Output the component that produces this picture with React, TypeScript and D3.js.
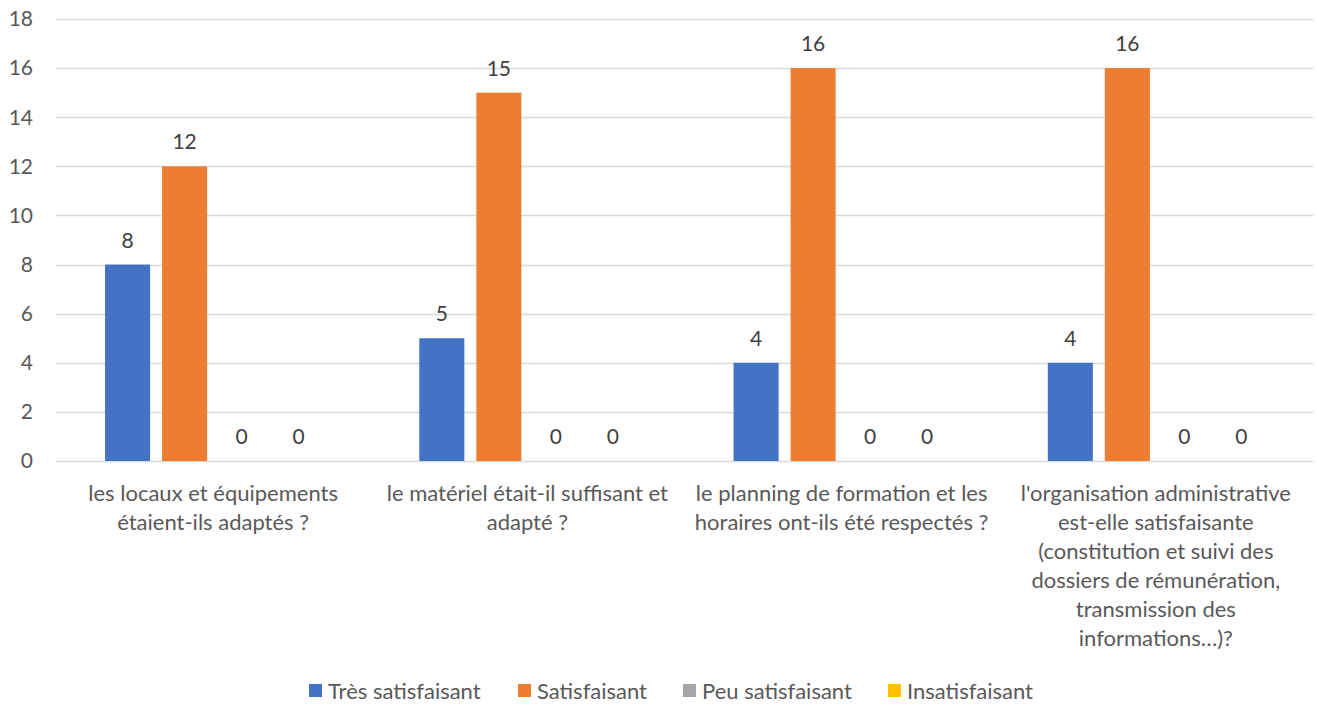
import { useEffect, useRef } from "react";
import * as d3 from "d3";

const categories = [
  "les locaux et équipements\nétaient-ils adaptés ?",
  "le matériel était-il suffisant et\nadapté ?",
  "le planning de formation et les\nhoraires ont-ils été respectés ?",
  "l'organisation administrative\nest-elle satisfaisante\n(constitution et suivi des\ndossiers de rémunération,\ntransmission des\ninformations…)?",
];
const seriesNames = ["Très satisfaisant", "Satisfaisant", "Peu satisfaisant", "Insatisfaisant"];
const seriesColors = ["#4472c4", "#ed7d31", "#a5a5a5", "#ffc000"];
const tresSatisfaisant = [8, 5, 4, 4];
const satisfaisant = [12, 15, 16, 16];
const peuSatisfaisant = [0, 0, 0, 0];
const insatisfaisant = [0, 0, 0, 0];
const yTicks = [0, 2, 4, 6, 8, 10, 12, 14, 16, 18];

const W = 1317;
const H = 706;
const FONT = "Lato, 'Open Sans', sans-serif";
const TEXT = "#595959";

export default function App() {
  const svgRef = useRef<SVGSVGElement | null>(null);

  useEffect(() => {
    if (!svgRef.current) return;
    const svg = d3.select(svgRef.current);
    svg.selectAll("*").remove();

    const series = [tresSatisfaisant, satisfaisant, peuSatisfaisant, insatisfaisant];
    const left = 56;
    const right = 1313;
    const top = 19;
    const bottom = 461;

    const x0 = d3.scaleBand<number>().domain(d3.range(categories.length)).range([left, right]);
    const x1 = d3
      .scaleBand<number>()
      .domain(d3.range(series.length))
      .range([0, x0.bandwidth()])
      .paddingInner(0.21)
      .paddingOuter(0.86);
    const y = d3.scaleLinear().domain([0, 18]).range([bottom, top]);

    // grid
    svg
      .append("g")
      .selectAll("line")
      .data(yTicks)
      .join("line")
      .attr("x1", left)
      .attr("x2", right)
      .attr("y1", (d) => Math.round(y(d)) + 0.5)
      .attr("y2", (d) => Math.round(y(d)) + 0.5)
      .attr("stroke", "#d9d9d9")
      .attr("stroke-width", 1.3);

    svg
      .append("g")
      .selectAll("text")
      .data(yTicks)
      .join("text")
      .attr("x", 33)
      .attr("y", (d) => y(d))
      .attr("dy", "0.35em")
      .attr("text-anchor", "end")
      .attr("font-family", FONT)
      .attr("font-size", 21)
      .attr("fill", TEXT)
      .text((d) => d);

    const groups = svg
      .append("g")
      .selectAll("g")
      .data(categories.map((c, i) => i))
      .join("g")
      .attr("transform", (i) => `translate(${x0(i)},0)`);

    groups
      .selectAll("rect")
      .data((i) => series.map((s, k) => ({ k, v: s[i] })))
      .join("rect")
      .attr("x", (d) => x1(d.k)!)
      .attr("width", x1.bandwidth())
      .attr("y", (d) => y(d.v))
      .attr("height", (d) => bottom - y(d.v))
      .attr("fill", (d) => seriesColors[d.k]);

    groups
      .selectAll("text")
      .data((i) => series.map((s, k) => ({ k, v: s[i] })))
      .join("text")
      .attr("x", (d) => x1(d.k)! + x1.bandwidth() / 2)
      .attr("y", (d) => y(d.v) - 17)
      .attr("text-anchor", "middle")
      .attr("font-family", FONT)
      .attr("font-size", 21)
      .attr("fill", "#404040")
      .text((d) => d.v);

    // category labels
    const labels = svg
      .append("g")
      .selectAll("text")
      .data(categories.map((c, i) => ({ c, i })))
      .join("text")
      .attr("text-anchor", "middle")
      .attr("font-family", FONT)
      .attr("font-size", 22)
      .attr("fill", TEXT);
    labels
      .selectAll("tspan")
      .data((d) => d.c.split("\n").map((line, j) => ({ line, j, x: x0(d.i)! + x0.bandwidth() / 2 })))
      .join("tspan")
      .attr("x", (d) => d.x)
      .attr("y", (d) => 501 + d.j * 29)
      .text((d) => d.line);

    // legend
    const legendX = [309, 518, 683, 888];
    const legend = svg
      .append("g")
      .selectAll("g")
      .data(seriesNames.map((n, k) => ({ n, k })))
      .join("g")
      .attr("transform", (d) => `translate(${legendX[d.k]},691)`);
    legend
      .append("rect")
      .attr("x", 0)
      .attr("y", -7)
      .attr("width", 13)
      .attr("height", 13)
      .attr("fill", (d) => seriesColors[d.k]);
    legend
      .append("text")
      .attr("x", 19)
      .attr("y", 0)
      .attr("dy", "0.35em")
      .attr("font-family", FONT)
      .attr("font-size", 22)
      .attr("fill", TEXT)
      .text((d) => d.n);
  }, []);

  return (
    <svg
      ref={svgRef}
      width={W}
      height={H}
      style={{ position: "absolute", left: 0, top: 0, background: "#fff" }}
    />
  );
}
